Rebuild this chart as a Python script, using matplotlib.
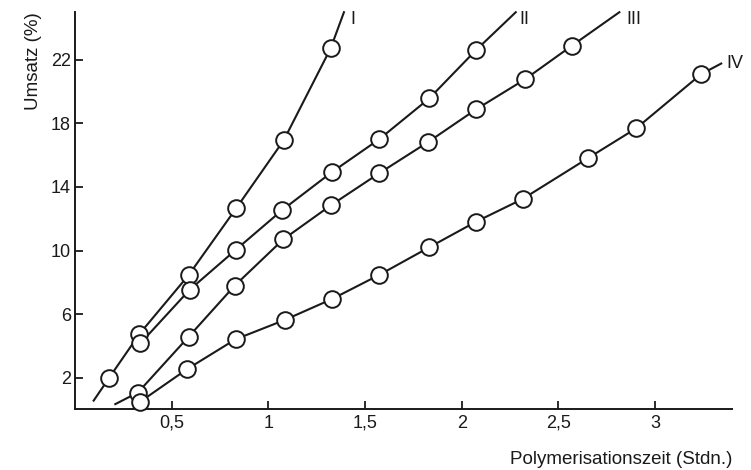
import matplotlib.pyplot as plt
import numpy as np

plt.rcParams['font.family'] = ['Liberation Sans', 'DejaVu Sans']

# Messpunkte (Zeit in Stdn., Umsatz in %)
t_I = [0.177, 0.333, 0.588, 0.833, 1.080, 1.322]
u_I = [2.0, 4.75, 8.46, 12.65, 16.95, 22.72]
t_II = [0.338, 0.592, 0.830, 1.072, 1.327, 1.573, 1.832, 2.074]
u_II = [4.16, 7.52, 10.03, 12.55, 14.92, 17.0, 19.57, 22.61]
t_III = [0.325, 0.588, 0.826, 1.077, 1.325, 1.573, 1.828, 2.074, 2.327, 2.569]
u_III = [1.06, 4.58, 7.79, 10.70, 12.86, 14.86, 16.84, 18.88, 20.77, 22.88]
t_IV = [0.338, 0.579, 0.830, 1.085, 1.330, 1.573, 1.832, 2.074, 2.315, 2.652, 2.903, 3.239]
u_IV = [0.49, 2.53, 4.41, 5.63, 6.95, 8.46, 10.2, 11.81, 13.24, 15.80, 17.69, 21.10]

# Anfang und Ende der gezogenen Kurven
start = {'I': (0.096, 0.55), 'II': None, 'III': (0.208, 0.33), 'IV': None}
end = {'I': (1.391, 25.0), 'II': (2.28, 25.0), 'III': (2.816, 25.0), 'IV': (3.343, 21.77)}
label_pos = {'I': (1.425, 24.55), 'II': (2.297, 24.55), 'III': (2.852, 24.55), 'IV': (3.372, 21.8)}

curves = {'I': (t_I, u_I), 'II': (t_II, u_II), 'III': (t_III, u_III), 'IV': (t_IV, u_IV)}

xticks = [0.5, 1, 1.5, 2, 2.5, 3]
xticklabels = ['0,5', '1', '1,5', '2', '2,5', '3']
yticks = [2, 6, 10, 14, 18, 22]

fig = plt.figure(figsize=(7.51, 4.70), dpi=100)
ax = fig.add_axes([0.1, 0.129, 0.875, 0.845])

for name, (t, u) in curves.items():
    lt = list(t)
    lu = list(u)
    if start[name] is not None:
        lt = [start[name][0]] + lt
        lu = [start[name][1]] + lu
    lt.append(end[name][0])
    lu.append(end[name][1])
    ax.plot(lt, lu, color='#1a1a1a', lw=1.5, zorder=2, clip_on=False)
    ax.plot(t, u, 'o', ms=12, mfc='white', mec='#1a1a1a', mew=1.4, zorder=3, clip_on=False)
    ax.text(label_pos[name][0], label_pos[name][1], name, fontsize=13,
            ha='left', va='center', color='#1a1a1a')

ax.set_xlim(0, 3.40)
ax.set_ylim(0, 25)
ax.set_xticks(xticks)
ax.set_xticklabels(xticklabels)
ax.set_yticks(yticks)

for s in ['top', 'right']:
    ax.spines[s].set_visible(False)
for s in ['left', 'bottom']:
    ax.spines[s].set_linewidth(1.4)
    ax.spines[s].set_color('#1a1a1a')

ax.tick_params(direction='in', length=6, width=1.3, labelsize=13, colors='#1a1a1a')
ax.tick_params(axis='x', pad=4)
ax.tick_params(axis='y', pad=3)

ax.set_ylabel('Umsatz (%)', loc='top', fontsize=13.5, color='#1a1a1a', labelpad=6)
ax.set_xlabel('Polymerisationszeit (Stdn.)', loc='right', fontsize=13.5, color='#1a1a1a', labelpad=14)

fig.savefig('out.png', dpi=100)
